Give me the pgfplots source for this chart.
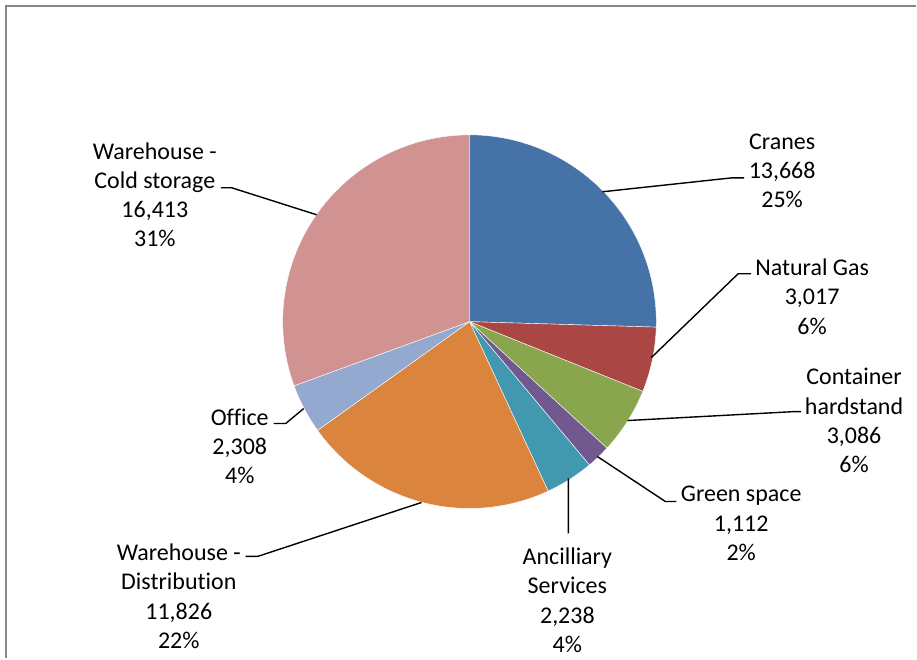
\documentclass[border=0pt]{standalone}
\usepackage{pgfplots}
\pgfplotsset{compat=1.18}
\usepackage{pgfplotstable}
\usepackage{fontspec}
\setmainfont{Carlito}[Ligatures=NoCommon]

\definecolor{cranes}{HTML}{4572A7}
\definecolor{gas}{HTML}{AA4643}
\definecolor{container}{HTML}{89A54E}
\definecolor{greensp}{HTML}{71588F}
\definecolor{ancil}{HTML}{4198AF}
\definecolor{distrib}{HTML}{DB843D}
\definecolor{office}{HTML}{93A9CF}
\definecolor{cold}{HTML}{D19392}
\definecolor{frame}{HTML}{878787}

% slices, clockwise from 12 o'clock
\pgfplotstableread{
value col
13668 cranes
3017  gas
3086  container
1112  greensp
2238  ancil
11826 distrib
2308  office
16413 cold
}\piedata

% slice angles, computed with \fpeval (values exceed pgfmath's range)
\pgfplotstablegetrowsof{\piedata}
\pgfmathtruncatemacro{\nrows}{\pgfplotsretval-1}
\gdef\pietotal{0}
\foreach \i in {0,...,\nrows}{
    \pgfplotstablegetelem{\i}{value}\of\piedata
    \xdef\pietotal{\fpeval{\pietotal+\pgfplotsretval}}
}
\expandafter\gdef\csname pieang0\endcsname{90}
\foreach \i in {0,...,\nrows}{
    \pgfplotstablegetelem{\i}{value}\of\piedata
    \pgfmathtruncatemacro{\j}{\i+1}
    \expandafter\xdef\csname pieang\j\endcsname{%
        \fpeval{round(\csname pieang\i\endcsname-360*\pgfplotsretval/\pietotal,4)}}
    \pgfplotstablegetelem{\i}{col}\of\piedata
    \expandafter\xdef\csname piecol\i\endcsname{\pgfplotsretval}
}

\begin{document}
\begin{tikzpicture}[font=\fontsize{24bp}{29.3bp}\selectfont]
\begin{axis}[
    scale only axis,
    width=917bp, height=659bp,
    xmin=0, xmax=917,
    ymin=0, ymax=659,
    y dir=reverse,
    hide axis,
    clip=false,
    ]
\path (rel axis cs:0,0) rectangle (rel axis cs:1,1);
\pgfplotsextra{
    \foreach \i in {0,...,\nrows}{
        \pgfmathtruncatemacro{\j}{\i+1}
        \edef\a{\csname pieang\i\endcsname}
        \edef\b{\csname pieang\j\endcsname}
        \edef\slicecol{\csname piecol\i\endcsname}
        \fill[fill=\slicecol, draw=white, line width=0.4bp, line join=round]
            (axis cs:470,322) -- ++(\a:187bp)
            arc[start angle=\a, end angle=\b, radius=187bp] -- cycle;
    }
}
% chart area border (left and top only visible)
\draw[frame, line width=2bp] (axis cs:6,659) -- (axis cs:6,6) -- (axis cs:917,6);

% leader lines
\draw[black, line width=1.4bp]
    (axis cs:603,192) -- (axis cs:733,178) -- (axis cs:745,178)
    (axis cs:652,358) -- (axis cs:739,274) -- (axis cs:752,274)
    (axis cs:628,421) -- (axis cs:796,412) -- (axis cs:802,412)
    (axis cs:598,457) -- (axis cs:666,502) -- (axis cs:677,502)
    (axis cs:569,479) -- (axis cs:569,534)
    (axis cs:422,503) -- (axis cs:258,557) -- (axis cs:246,557)
    (axis cs:304,409) -- (axis cs:286,424) -- (axis cs:274,424)
    (axis cs:317,215) -- (axis cs:232,188) -- (axis cs:221,188);

% data labels
\node[align=center] at (axis cs:783,171) {Cranes\\13,668\\25\%};
\node[align=center] at (axis cs:813,297) {Natural Gas\\3,017\\6\%};
\node[align=center] at (axis cs:855,421) {Container\\hardstand\\3,086\\6\%};
\node[align=center] at (axis cs:742,524) {Green space\\1,112\\2\%};
\node[align=center] at (axis cs:568,601) {Ancilliary\\Services\\2,238\\4\%};
\node[align=center] at (axis cs:179,597) {Warehouse -\\Distribution\\11,826\\22\%};
\node[align=center] at (axis cs:240,447) {Office\\2,308\\4\%};
\node[align=center] at (axis cs:155,195) {Warehouse -\\Cold storage\\16,413\\31\%};
\end{axis}
\end{tikzpicture}
\end{document}
